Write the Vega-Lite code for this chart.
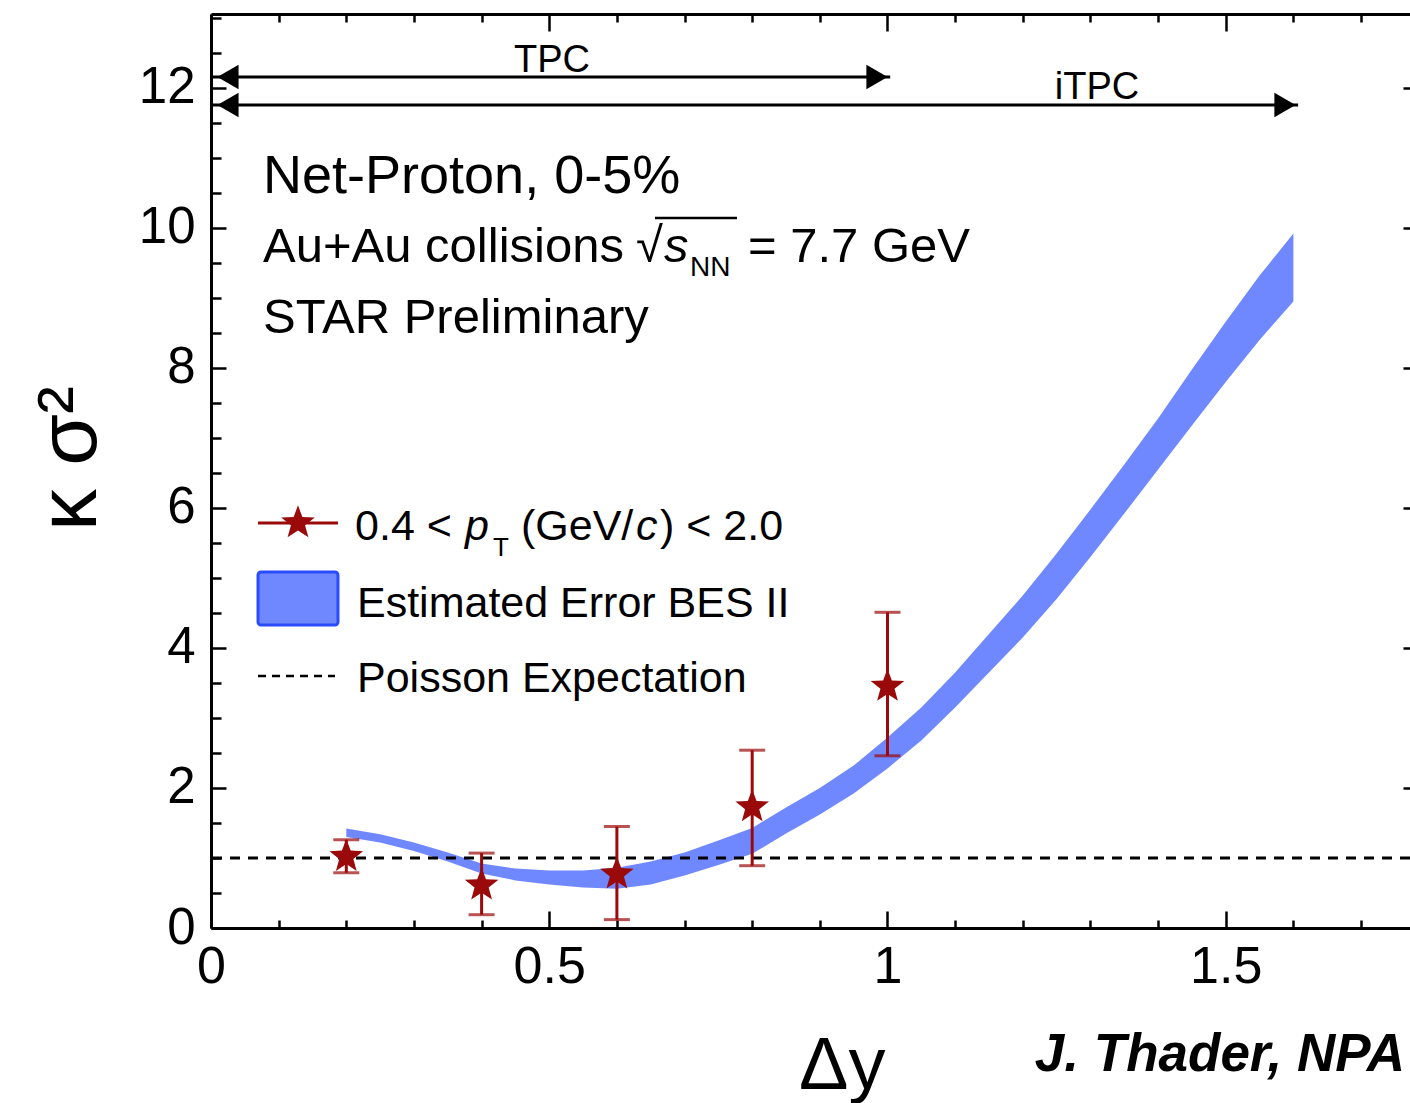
{
  "$schema": "https://vega.github.io/schema/vega-lite/v6.json",
  "width": 1199,
  "height": 914,
  "autosize": {"type": "none"},
  "padding": {"left": 211, "top": 14, "right": 0, "bottom": 175},
  "background": "white",
  "config": {
    "view": {"stroke": null},
    "font": "Liberation Sans",
    "axis": {
      "grid": false,
      "labelFont": "Liberation Sans",
      "titleFont": "Liberation Sans",
      "labelColor": "black",
      "titleColor": "black",
      "tickColor": "black",
      "domainColor": "black",
      "tickWidth": 2.5,
      "domainWidth": 3,
      "labelFlush": false,
      "labelOverlap": false
    }
  },
  "datasets": {
    "band": [
      {"x": 0.20, "lo": 1.30, "hi": 1.42},
      {"x": 0.25, "lo": 1.22, "hi": 1.34},
      {"x": 0.30, "lo": 1.10, "hi": 1.22},
      {"x": 0.35, "lo": 0.95, "hi": 1.08},
      {"x": 0.40, "lo": 0.78, "hi": 0.92},
      {"x": 0.45, "lo": 0.68, "hi": 0.85},
      {"x": 0.50, "lo": 0.62, "hi": 0.82},
      {"x": 0.55, "lo": 0.58, "hi": 0.82},
      {"x": 0.60, "lo": 0.56, "hi": 0.86},
      {"x": 0.65, "lo": 0.62, "hi": 0.95},
      {"x": 0.70, "lo": 0.75, "hi": 1.08},
      {"x": 0.75, "lo": 0.90, "hi": 1.25},
      {"x": 0.80, "lo": 1.06, "hi": 1.43},
      {"x": 0.85, "lo": 1.35, "hi": 1.72},
      {"x": 0.90, "lo": 1.62, "hi": 2.00},
      {"x": 0.95, "lo": 1.92, "hi": 2.32},
      {"x": 1.00, "lo": 2.28, "hi": 2.72},
      {"x": 1.05, "lo": 2.68, "hi": 3.15},
      {"x": 1.10, "lo": 3.15, "hi": 3.65},
      {"x": 1.15, "lo": 3.65, "hi": 4.20},
      {"x": 1.20, "lo": 4.15, "hi": 4.75},
      {"x": 1.25, "lo": 4.70, "hi": 5.35},
      {"x": 1.30, "lo": 5.30, "hi": 5.98},
      {"x": 1.35, "lo": 5.92, "hi": 6.62},
      {"x": 1.40, "lo": 6.55, "hi": 7.28},
      {"x": 1.45, "lo": 7.18, "hi": 7.98},
      {"x": 1.50, "lo": 7.80, "hi": 8.66},
      {"x": 1.55, "lo": 8.40, "hi": 9.32},
      {"x": 1.60, "lo": 8.95, "hi": 9.92}
    ],
    "points": [
      {"x": 0.2, "y": 1.02, "lo": 0.79, "hi": 1.26},
      {"x": 0.4, "y": 0.61, "lo": 0.19, "hi": 1.07},
      {"x": 0.6, "y": 0.77, "lo": 0.12, "hi": 1.45},
      {"x": 0.8, "y": 1.73, "lo": 0.89, "hi": 2.54},
      {"x": 1.0, "y": 3.45, "lo": 2.46, "hi": 4.51}
    ],
    "poisson": [{"y": 1}],
    "arrows": [
      {"name": "TPC", "x0": 0, "x1": 1.004, "y": 12.157},
      {"name": "iTPC", "x0": 0, "x1": 1.607, "y": 11.757}
    ],
    "heads": [
      {"x": 0.0251, "y": 12.157, "dir": "left"},
      {"x": 0.9845, "y": 12.157, "dir": "right"},
      {"x": 0.0251, "y": 11.757, "dir": "left"},
      {"x": 1.5876, "y": 11.757, "dir": "right"}
    ],
    "legline": [{"x0": 0.0695, "x1": 0.1877, "xm": 0.1286, "y": 5.786}],
    "legbox": [{"x0": 0.0695, "x1": 0.1877, "y0": 4.329, "y1": 5.086}],
    "legdash": [{"x0": 0.0695, "x1": 0.1833, "y": 3.6}],
    "overline": [{"x0": 0.6563, "x1": 0.7775, "y": 10.143}],
    "notes": [
      {"g": "big", "text": "Net-Proton, 0-5%", "x": 0.0769, "y": 10.5},
      {"g": "main", "text": "Au+Au collisions", "x": 0.0769, "y": 9.514},
      {"g": "main", "text": "√", "x": 0.6282, "y": 9.514},
      {"g": "mainit", "text": "s", "x": 0.6696, "y": 9.514},
      {"g": "sub", "text": "NN", "x": 0.708, "y": 9.314},
      {"g": "main", "text": "= 7.7 GeV", "x": 0.7938, "y": 9.514},
      {"g": "main", "text": "STAR Preliminary", "x": 0.0769, "y": 8.5},
      {"g": "det", "text": "TPC", "x": 0.504, "y": 12.229},
      {"g": "det", "text": "iTPC", "x": 1.3097, "y": 11.843},
      {"g": "leg", "text": "0.4 <", "x": 0.2129, "y": 5.543},
      {"g": "legit", "text": "p", "x": 0.3755, "y": 5.543},
      {"g": "legsub", "text": "T", "x": 0.4168, "y": 5.314},
      {"g": "leg", "text": "(GeV/", "x": 0.4582, "y": 5.543},
      {"g": "legit", "text": "c", "x": 0.6282, "y": 5.543},
      {"g": "leg", "text": ") < 2.0", "x": 0.6637, "y": 5.543},
      {"g": "leg", "text": "Estimated Error BES II", "x": 0.2158, "y": 4.443},
      {"g": "leg", "text": "Poisson Expectation", "x": 0.2158, "y": 3.371},
      {"g": "credit", "text": "J. Thader, NPA", "x": 1.765, "y": -2.043}
    ]
  },
  "layer": [
    {
      "data": {"name": "band"},
      "mark": {"type": "area", "fill": "#2448ff", "fillOpacity": 0.65},
      "encoding": {
        "x": {"field": "x", "type": "quantitative",
          "scale": {"domain": [0, 1.7724], "nice": false, "zero": false},
          "axis": {"orient": "bottom", "values": [0, 0.5, 1, 1.5], "format": "~g", "tickSize": -17, "labelFontSize": 52, "labelPadding": 30,
            "title": "Δy", "titleFontSize": 74, "titleFontWeight": "normal", "titleX": 674, "titleY": 160, "titleAlign": "right", "titleBaseline": "alphabetic"}},
        "y": {"field": "lo", "type": "quantitative",
          "scale": {"domain": [0, 13.057], "nice": false, "zero": false},
          "axis": {"orient": "left", "values": [0, 2, 4, 6, 8, 10, 12], "format": "d", "tickSize": -15, "labelFontSize": 51, "labelPadding": 31,
            "title": "κ σ²", "titleFontSize": 84, "titleFontWeight": "normal", "titleX": -116, "titleY": 444, "titleAlign": "center", "titleBaseline": "alphabetic", "titleAngle": 270}},
        "y2": {"field": "hi"}
      }
    },
    {
      "data": {"name": "poisson"},
      "mark": {"type": "rule", "color": "black", "strokeWidth": 3, "strokeDash": [10, 8]},
      "encoding": {"y": {"field": "y", "type": "quantitative", "axis": null}}
    },
    {
      "data": {"name": "points"},
      "mark": {"type": "rule", "color": "#9b0a0a", "strokeWidth": 3},
      "encoding": {
        "x": {"field": "x", "type": "quantitative",
          "axis": {"orient": "bottom", "values": [0.1, 0.2, 0.3, 0.4, 0.6, 0.7, 0.8, 0.9, 1.1, 1.2, 1.3, 1.4, 1.6, 1.7], "tickSize": -8, "labels": false, "domain": false, "title": null}},
        "y": {"field": "lo", "type": "quantitative",
          "axis": {"orient": "left", "values": [0.5, 1, 1.5, 2.5, 3, 3.5, 4.5, 5, 5.5, 6.5, 7, 7.5, 8.5, 9, 9.5, 10.5, 11, 11.5, 12.5, 13], "tickSize": -10, "labels": false, "domain": false, "title": null}},
        "y2": {"field": "hi"}
      }
    },
    {
      "data": {"name": "points"},
      "transform": [{"fold": ["lo", "hi"], "as": ["end", "val"]}],
      "mark": {"type": "tick", "orient": "horizontal", "color": "#9b0a0a", "size": 26, "thickness": 3},
      "encoding": {
        "x": {"field": "x", "type": "quantitative",
          "axis": {"orient": "top", "values": [0, 0.5, 1, 1.5], "tickSize": -17, "labels": false, "domain": true, "title": null}},
        "y": {"field": "val", "type": "quantitative",
          "axis": {"orient": "right", "values": [0, 2, 4, 6, 8, 10, 12], "tickSize": -7, "labels": false, "domain": false, "title": null}}
      }
    },
    {
      "data": {"name": "points"},
      "mark": {"type": "point", "shape": "M0,-1L0.247,-0.34L0.951,-0.309L0.399,0.13L0.588,0.809L0,0.42L-0.588,0.809L-0.399,0.13L-0.951,-0.309L-0.247,-0.34Z", "filled": true, "color": "#9b0a0a", "size": 1250, "opacity": 1},
      "encoding": {
        "x": {"field": "x", "type": "quantitative",
          "axis": {"orient": "top", "values": [0.1, 0.2, 0.3, 0.4, 0.6, 0.7, 0.8, 0.9, 1.1, 1.2, 1.3, 1.4, 1.6, 1.7], "tickSize": -8, "labels": false, "domain": false, "title": null}},
        "y": {"field": "y", "type": "quantitative", "axis": null}
      }
    },
    {
      "data": {"name": "arrows"},
      "mark": {"type": "rule", "color": "black", "strokeWidth": 3},
      "encoding": {
        "x": {"field": "x0", "type": "quantitative", "axis": null},
        "x2": {"field": "x1"},
        "y": {"field": "y", "type": "quantitative", "axis": null}
      }
    },
    {
      "data": {"name": "heads"},
      "mark": {"type": "point", "filled": true, "color": "black", "size": 600, "opacity": 1},
      "encoding": {
        "x": {"field": "x", "type": "quantitative", "axis": null},
        "y": {"field": "y", "type": "quantitative", "axis": null},
        "shape": {"field": "dir", "type": "nominal", "scale": {"domain": ["left", "right"], "range": ["triangle-left", "triangle-right"]}, "legend": null}
      }
    },
    {
      "data": {"name": "legline"},
      "mark": {"type": "rule", "color": "#9b0a0a", "strokeWidth": 3},
      "encoding": {
        "x": {"field": "x0", "type": "quantitative", "axis": null},
        "x2": {"field": "x1"},
        "y": {"field": "y", "type": "quantitative", "axis": null}
      }
    },
    {
      "data": {"name": "legline"},
      "mark": {"type": "point", "shape": "M0,-1L0.247,-0.34L0.951,-0.309L0.399,0.13L0.588,0.809L0,0.42L-0.588,0.809L-0.399,0.13L-0.951,-0.309L-0.247,-0.34Z", "filled": true, "color": "#9b0a0a", "size": 1250, "opacity": 1},
      "encoding": {
        "x": {"field": "xm", "type": "quantitative", "axis": null},
        "y": {"field": "y", "type": "quantitative", "axis": null}
      }
    },
    {
      "data": {"name": "legbox"},
      "mark": {"type": "rect", "fill": "#2448ff", "fillOpacity": 0.65, "stroke": "#2a4cff", "strokeWidth": 3, "cornerRadius": 3},
      "encoding": {
        "x": {"field": "x0", "type": "quantitative", "axis": null},
        "x2": {"field": "x1"},
        "y": {"field": "y0", "type": "quantitative", "axis": null},
        "y2": {"field": "y1"}
      }
    },
    {
      "data": {"name": "legdash"},
      "mark": {"type": "rule", "color": "black", "strokeWidth": 2.5, "strokeDash": [8, 6]},
      "encoding": {
        "x": {"field": "x0", "type": "quantitative", "axis": null},
        "x2": {"field": "x1"},
        "y": {"field": "y", "type": "quantitative", "axis": null}
      }
    },
    {
      "data": {"name": "overline"},
      "mark": {"type": "rule", "color": "black", "strokeWidth": 2.5},
      "encoding": {
        "x": {"field": "x0", "type": "quantitative", "axis": null},
        "x2": {"field": "x1"},
        "y": {"field": "y", "type": "quantitative", "axis": null}
      }
    },
    {
      "data": {"name": "notes"},
      "transform": [{"filter": "datum.g === 'big'"}],
      "mark": {"type": "text", "align": "left", "baseline": "alphabetic", "fontSize": 54, "color": "black"},
      "encoding": {
        "x": {"field": "x", "type": "quantitative", "axis": null},
        "y": {"field": "y", "type": "quantitative", "axis": null},
        "text": {"field": "text"}
      }
    },
    {
      "data": {"name": "notes"},
      "transform": [{"filter": "datum.g === 'main'"}],
      "mark": {"type": "text", "align": "left", "baseline": "alphabetic", "fontSize": 49, "color": "black"},
      "encoding": {
        "x": {"field": "x", "type": "quantitative", "axis": null},
        "y": {"field": "y", "type": "quantitative", "axis": null},
        "text": {"field": "text"}
      }
    },
    {
      "data": {"name": "notes"},
      "transform": [{"filter": "datum.g === 'mainit'"}],
      "mark": {"type": "text", "align": "left", "baseline": "alphabetic", "fontSize": 49, "fontStyle": "italic", "color": "black"},
      "encoding": {
        "x": {"field": "x", "type": "quantitative", "axis": null},
        "y": {"field": "y", "type": "quantitative", "axis": null},
        "text": {"field": "text"}
      }
    },
    {
      "data": {"name": "notes"},
      "transform": [{"filter": "datum.g === 'sub'"}],
      "mark": {"type": "text", "align": "left", "baseline": "alphabetic", "fontSize": 28, "color": "black"},
      "encoding": {
        "x": {"field": "x", "type": "quantitative", "axis": null},
        "y": {"field": "y", "type": "quantitative", "axis": null},
        "text": {"field": "text"}
      }
    },
    {
      "data": {"name": "notes"},
      "transform": [{"filter": "datum.g === 'det'"}],
      "mark": {"type": "text", "align": "center", "baseline": "alphabetic", "fontSize": 38, "color": "black"},
      "encoding": {
        "x": {"field": "x", "type": "quantitative", "axis": null},
        "y": {"field": "y", "type": "quantitative", "axis": null},
        "text": {"field": "text"}
      }
    },
    {
      "data": {"name": "notes"},
      "transform": [{"filter": "datum.g === 'leg'"}],
      "mark": {"type": "text", "align": "left", "baseline": "alphabetic", "fontSize": 43, "color": "black"},
      "encoding": {
        "x": {"field": "x", "type": "quantitative", "axis": null},
        "y": {"field": "y", "type": "quantitative", "axis": null},
        "text": {"field": "text"}
      }
    },
    {
      "data": {"name": "notes"},
      "transform": [{"filter": "datum.g === 'legit'"}],
      "mark": {"type": "text", "align": "left", "baseline": "alphabetic", "fontSize": 43, "fontStyle": "italic", "color": "black"},
      "encoding": {
        "x": {"field": "x", "type": "quantitative", "axis": null},
        "y": {"field": "y", "type": "quantitative", "axis": null},
        "text": {"field": "text"}
      }
    },
    {
      "data": {"name": "notes"},
      "transform": [{"filter": "datum.g === 'legsub'"}],
      "mark": {"type": "text", "align": "left", "baseline": "alphabetic", "fontSize": 26, "color": "black"},
      "encoding": {
        "x": {"field": "x", "type": "quantitative", "axis": null},
        "y": {"field": "y", "type": "quantitative", "axis": null},
        "text": {"field": "text"}
      }
    },
    {
      "data": {"name": "notes"},
      "transform": [{"filter": "datum.g === 'credit'"}],
      "mark": {"type": "text", "align": "right", "baseline": "alphabetic", "fontSize": 53, "fontWeight": "bold", "fontStyle": "italic", "color": "black"},
      "encoding": {
        "x": {"field": "x", "type": "quantitative", "axis": null},
        "y": {"field": "y", "type": "quantitative", "axis": null},
        "text": {"field": "text"}
      }
    }
  ],
  "resolve": {"axis": {"x": "independent", "y": "independent"}}
}
